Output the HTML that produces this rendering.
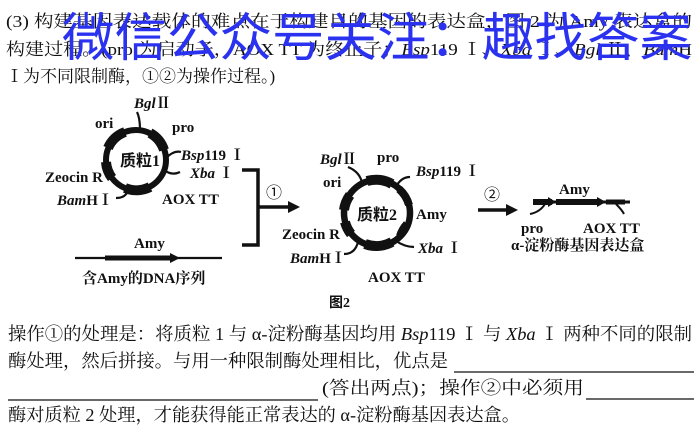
<!DOCTYPE html>
<html><head><meta charset="utf-8"><style>
html,body{margin:0;padding:0;background:#fff;}
svg{display:block;}
text{font-family:"Liberation Serif","Noto Serif CJK SC",serif;fill:#111;}
.b{font-weight:bold;}
.s{font-family:"Liberation Serif","Noto Sans CJK SC",serif;}
</style></head><body>
<svg width="700" height="432" viewBox="0 0 700 432" xmlns="http://www.w3.org/2000/svg">
<g font-size="17">
<text x="6" y="27" textLength="686" lengthAdjust="spacingAndGlyphs">(3) 构建基因表达载体的难点在于构建目的基因的表达盒，图 2 为 Amy 表达盒的</text>
<text x="6" y="55" textLength="686" lengthAdjust="spacingAndGlyphs">构建过程。(pro 为启动子，AOX TT 为终止子；<tspan font-style="italic">Bsp</tspan>119 Ⅰ、<tspan font-style="italic">Xba</tspan> Ⅰ、<tspan font-style="italic">Bgl</tspan> Ⅱ、<tspan font-style="italic">Bam</tspan>H</text>
<text x="6" y="82">Ⅰ为不同限制酶，①②为操作过程。)</text>
</g>
<text x="62" y="56" font-size="52" textLength="630" lengthAdjust="spacingAndGlyphs" style="font-family:'Noto Sans CJK SC',sans-serif;fill:#2a32f0;">微信公众号关注：趣找答案</text>

<g fill="none" stroke="#111">
<circle cx="136" cy="160" r="30" stroke-width="6"/>
<path d="M108 148 A30 30 0 0 1 125 132" stroke-width="10"/>
<path d="M150 133 A30 30 0 0 1 164 150" stroke-width="10"/>
<path d="M106 162 A30 30 0 0 0 112 178" stroke-width="10"/>
<path d="M125 188 A30 30 0 0 0 150 187" stroke-width="10"/>
<path d="M140 130 Q140 118 137 112" stroke-width="2.2"/>
<path d="M166 158 Q174 150 181 152" stroke-width="2.2"/>
<path d="M164 170 Q172 176 180 172" stroke-width="2.2"/>
<path d="M128 190 Q126 198 116 198" stroke-width="2.2"/>
</g>
<g font-size="15" class="b">
<text x="134" y="108"><tspan font-style="italic">Bgl</tspan>Ⅱ</text>
<text x="95" y="128">ori</text>
<text x="172" y="132">pro</text>
<text x="181" y="160"><tspan font-style="italic">Bsp</tspan>119 Ⅰ</text>
<text x="190" y="178"><tspan font-style="italic">Xba</tspan> Ⅰ</text>
<text x="45" y="182">Zeocin R</text>
<text x="57" y="205"><tspan font-style="italic">Bam</tspan>HⅠ</text>
<text x="162" y="204">AOX TT</text>
</g>
<text x="120" y="166" font-size="16" class="s b">质粒1</text>

<line x1="75" y1="258" x2="222" y2="258" stroke="#111" stroke-width="2.2"/>
<line x1="105" y1="258" x2="172" y2="258" stroke="#111" stroke-width="5"/>
<polygon points="170,253 180,258 170,263" fill="#111"/>
<text x="134" y="248" font-size="15" class="b">Amy</text>
<text x="82" y="283" font-size="15" class="b">含Amy的DNA序列</text>

<path d="M242 170 H258 V245 H242" fill="none" stroke="#111" stroke-width="3.5"/>
<line x1="258" y1="207" x2="290" y2="207" stroke="#111" stroke-width="3.5"/>
<polygon points="288,201 300,207 288,213" fill="#111"/>
<text x="266" y="198" font-size="16" class="s">①</text>

<g fill="none" stroke="#111">
<circle cx="377" cy="213" r="33" stroke-width="6.5"/>
<path d="M367 181 A33 33 0 0 1 392 184" stroke-width="10"/>
<path d="M399 189 A33 33 0 0 1 409 205" stroke-width="8"/>
<path d="M350 195 A33 33 0 0 0 344 210" stroke-width="10"/>
<path d="M345 222 A33 33 0 0 0 351 234" stroke-width="10"/>
<path d="M365 244 A33 33 0 0 0 392 242" stroke-width="10"/>
<path d="M400 236 A33 33 0 0 1 407 224" stroke-width="8"/>
<path d="M362 183 Q360 172 348 167" stroke-width="2.2"/>
<path d="M397 185 Q402 177 410 177" stroke-width="2.2"/>
<path d="M396 241 Q405 247 414 247" stroke-width="2.2"/>
<path d="M358 242 Q355 254 344 254" stroke-width="2.2"/>
</g>
<g font-size="15" class="b">
<text x="320" y="164"><tspan font-style="italic">Bgl</tspan>Ⅱ</text>
<text x="377" y="162">pro</text>
<text x="416" y="176"><tspan font-style="italic">Bsp</tspan>119 Ⅰ</text>
<text x="323" y="187">ori</text>
<text x="416" y="219">Amy</text>
<text x="282" y="239">Zeocin R</text>
<text x="418" y="253"><tspan font-style="italic">Xba</tspan> Ⅰ</text>
<text x="290" y="263"><tspan font-style="italic">Bam</tspan>HⅠ</text>
<text x="368" y="282">AOX TT</text>
</g>
<text x="357" y="220" font-size="16" class="s b">质粒2</text>
<text x="329" y="307" font-size="14" class="b s">图2</text>

<line x1="478" y1="210" x2="508" y2="210" stroke="#111" stroke-width="3.5"/>
<polygon points="506,204 518,210 506,216" fill="#111"/>
<text x="484" y="200" font-size="16" class="s">②</text>

<line x1="533" y1="202" x2="630" y2="202" stroke="#111" stroke-width="3"/>
<path d="M533 202 H552" stroke="#111" stroke-width="6"/>
<polygon points="548,197 556,202 548,207" fill="#111"/>
<path d="M556 202 H600" stroke="#111" stroke-width="6"/>
<polygon points="597,197 606,202 597,207" fill="#111"/>
<path d="M606 202 H625" stroke="#111" stroke-width="5"/>
<path d="M545 204 Q540 212 530 214" fill="none" stroke="#111" stroke-width="2"/>
<path d="M616 204 Q622 210 624 214" fill="none" stroke="#111" stroke-width="2"/>
<text x="559" y="194" font-size="15" class="b">Amy</text>
<text x="521" y="233" font-size="15" class="b">pro</text>
<text x="583" y="233" font-size="15" class="b">AOX TT</text>
<text x="511" y="250" font-size="15" class="b">α-淀粉酶基因表达盒</text>

<g font-size="18">
<text x="8" y="340" textLength="684" lengthAdjust="spacingAndGlyphs">操作①的处理是：将质粒 1 与 α-淀粉酶基因均用 <tspan font-style="italic">Bsp</tspan>119 Ⅰ 与 <tspan font-style="italic">Xba</tspan> Ⅰ 两种不同的限制</text>
<text x="8" y="367" textLength="440" lengthAdjust="spacingAndGlyphs">酶处理，然后拼接。与用一种限制酶处理相比，优点是</text>
<text x="322" y="394" textLength="262" lengthAdjust="spacingAndGlyphs">(答出两点)；操作②中必须用</text>
<text x="8" y="421" textLength="512" lengthAdjust="spacingAndGlyphs">酶对质粒 2 处理，才能获得能正常表达的 α-淀粉酶基因表达盒。</text>
</g>
<g stroke="#111" stroke-width="1.2">
<line x1="454" y1="372" x2="694" y2="372"/>
<line x1="8" y1="400" x2="318" y2="400"/>
<line x1="586" y1="399" x2="694" y2="399"/>
</g>
</svg>
</body></html>
